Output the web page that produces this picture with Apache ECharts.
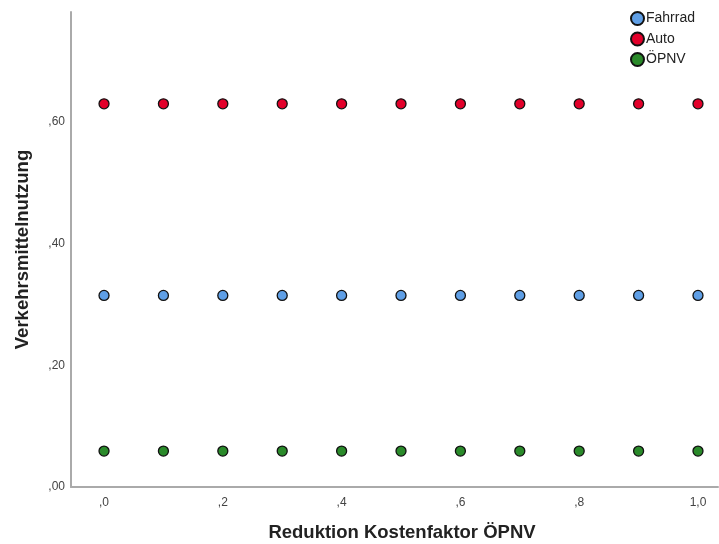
<!DOCTYPE html>
<html><head><meta charset="utf-8">
<script src="https://cdn.jsdelivr.net/npm/echarts@6/dist/echarts.min.js"></script>
<style>html,body{margin:0;padding:0;background:#fff}#c{width:719px;height:544px}</style>
</head><body><div id="c"></div>
<script>
const xValues = [0, 0.1, 0.2, 0.3, 0.4, 0.5, 0.6, 0.7, 0.8, 0.9, 1.0];
const fahrrad = [0.315, 0.315, 0.315, 0.315, 0.315, 0.315, 0.315, 0.315, 0.315, 0.315, 0.315];
const auto = [0.63, 0.63, 0.63, 0.63, 0.63, 0.63, 0.63, 0.63, 0.63, 0.63, 0.63];
const oepnv = [0.059, 0.059, 0.059, 0.059, 0.059, 0.059, 0.059, 0.059, 0.059, 0.059, 0.059];
const xTicks = [0, 0.2, 0.4, 0.6, 0.8, 1.0];
const yTicks = [0, 0.2, 0.4, 0.6];
const seriesNames = ['Fahrrad', 'Auto', 'ÖPNV'];
const colors = ['#5f9fe6', '#e2002a', '#2a8a2a'];

const chart = echarts.init(document.getElementById('c'));
const font = 'Arial, "Liberation Sans", sans-serif';
const mk = (name, vals, color) => ({
  name, type: 'scatter', symbol: 'circle', symbolSize: 10,
  data: xValues.map((x, i) => [x, vals[i]]),
  itemStyle: { color, opacity: 1, borderColor: '#111', borderWidth: 1.3 }
});
chart.setOption({
  animation: false,
  grid: { left: 71, top: 12, right: 1, bottom: 57, outerBoundsMode: 'none', containLabel: false },
  legend: {
    orient: 'vertical', left: 625, top: 6, itemGap: 5.5,
    icon: 'circle', itemWidth: 13, itemHeight: 13,
    textStyle: { fontFamily: font, fontSize: 14, color: '#222', padding: [0, 0, 0, -3] },
    data: seriesNames
  },
  xAxis: {
    type: 'value', min: -0.0556, max: 1.0337,
    name: 'Reduktion Kostenfaktor ÖPNV', nameLocation: 'middle', nameGap: 36,
    nameTextStyle: { fontFamily: font, fontSize: 18.5, fontWeight: 'bold', color: '#222', padding: [0, 0, 0, 15] },
    axisLine: { show: true, onZero: false, lineStyle: { color: '#aaa', width: 2 } },
    axisTick: { show: false }, splitLine: { show: false },
    axisLabel: {
      customValues: xTicks, margin: 10, fontFamily: font, fontSize: 12, color: '#444',
      formatter: v => v.toFixed(1).replace('.', ',').replace(/^0/, '')
    }
  },
  yAxis: {
    type: 'value', min: 0, max: 0.781,
    name: 'Verkehrsmittelnutzung', nameLocation: 'middle', nameGap: 39,
    nameTextStyle: { fontFamily: font, fontSize: 18.5, fontWeight: 'bold', color: '#222' },
    axisLine: { show: true, onZero: false, lineStyle: { color: '#aaa', width: 2 } },
    axisTick: { show: false }, splitLine: { show: false },
    axisLabel: {
      customValues: yTicks, margin: 6, fontFamily: font, fontSize: 12, color: '#444',
      formatter: v => v.toFixed(2).replace(/^0\./, ',')
    }
  },
  series: [mk(seriesNames[0], fahrrad, colors[0]), mk(seriesNames[1], auto, colors[1]), mk(seriesNames[2], oepnv, colors[2])]
});
</script></body></html>
